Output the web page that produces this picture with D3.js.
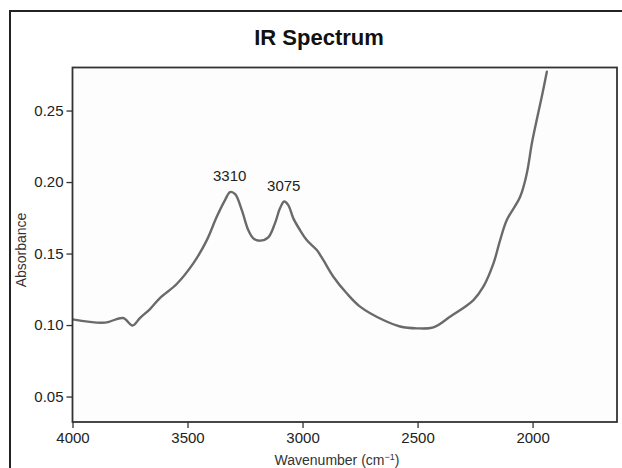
<!DOCTYPE html>
<html>
<head>
<meta charset="utf-8">
<script src="https://cdn.jsdelivr.net/npm/d3@7"></script>
<style>
  html, body { margin: 0; padding: 0; background: #fff; }
  svg { display: block; }
</style>
</head>
<body>
<script>
// ---- data ----
const wavenumber = [4000, 3859, 3780, 3739, 3707, 3663, 3620, 3547, 3475, 3416, 3373, 3337, 3315, 3293, 3264, 3236, 3214, 3185, 3149, 3120, 3098, 3080, 3062, 3040, 3011, 2982, 2938, 2910, 2866, 2808, 2750, 2649, 2576, 2503, 2431, 2359, 2257, 2214, 2170, 2141, 2112, 2054, 2025, 2003, 1982, 1960, 1938];
const absorbance = [0.1040, 0.1017, 0.1049, 0.0997, 0.1049, 0.1112, 0.1189, 0.1287, 0.1431, 0.1594, 0.1757, 0.1874, 0.1930, 0.1916, 0.1804, 0.1664, 0.1606, 0.1590, 0.1613, 0.1711, 0.1816, 0.1864, 0.1839, 0.1746, 0.1664, 0.1594, 0.1524, 0.1455, 0.1338, 0.1222, 0.1129, 0.1035, 0.0990, 0.0977, 0.0984, 0.1058, 0.1175, 0.1268, 0.1431, 0.1594, 0.1734, 0.1897, 0.2061, 0.2271, 0.2434, 0.2597, 0.2771];
const peakLabels = ["3310", "3075"];
const peakWavenumber = [3310, 3075];
const peakAbsorbance = [0.1935, 0.1866];
const xTicks = [4000, 3500, 3000, 2500, 2000];
const yTicks = [0.05, 0.10, 0.15, 0.20, 0.25];

// ---- layout ----
const W = 622, H = 468;
const L = 72.5, R = 617, T = 67.5, B = 422;
const font = "'Liberation Sans', Arial, sans-serif";

const svg = d3.select("body").append("svg").attr("width", W).attr("height", H);

// outer frame
svg.append("rect").attr("x", 10).attr("y", 11).attr("width", 700).attr("height", 500)
  .attr("fill", "none").attr("stroke", "#222").attr("stroke-width", 2);

// title
svg.append("text").attr("x", 319).attr("y", 45).attr("text-anchor", "middle")
  .attr("font-family", font).attr("font-weight", "bold").attr("font-size", 22)
  .attr("fill", "#111").text("IR Spectrum");

const x = d3.scaleLinear().domain([4000, 1633]).range([L, R]);
const y = d3.scaleLinear().domain([0.0322, 0.2801]).range([B, T]);

// clip
svg.append("defs").append("clipPath").attr("id", "plotclip")
  .append("rect").attr("x", L).attr("y", T).attr("width", R - L).attr("height", B - T);

// plot background
svg.append("rect").attr("x", L).attr("y", T).attr("width", R - L).attr("height", B - T)
  .attr("fill", "#fdfdfd");

// curve
const pts = wavenumber.map((w, i) => [w, absorbance[i]]);
const line = d3.line().x(d => x(d[0])).y(d => y(d[1])).curve(d3.curveCatmullRom.alpha(0.5));
svg.append("path").datum(pts).attr("d", line).attr("clip-path", "url(#plotclip)")
  .attr("fill", "none").attr("stroke", "#6a6a6a").attr("stroke-width", 2.4)
  .attr("stroke-linejoin", "round").attr("stroke-linecap", "round");

// peak labels
svg.selectAll("text.peak").data(peakLabels).enter().append("text")
  .attr("class", "peak")
  .attr("x", (d, i) => x(peakWavenumber[i]) - 1.5)
  .attr("y", (d, i) => y(peakAbsorbance[i]) - 10)
  .attr("text-anchor", "middle").attr("font-family", font).attr("font-size", 15)
  .attr("fill", "#222").text(d => d);

// axes
const xAxis = d3.axisBottom(x).tickValues(xTicks).tickFormat(d3.format("d")).tickSizeOuter(0).tickSize(6).tickPadding(4);
const gx = svg.append("g").attr("transform", `translate(0,${B})`).call(xAxis);
const yAxis = d3.axisLeft(y).tickValues(yTicks).tickFormat(d3.format(".2f")).tickSizeOuter(0).tickSize(6).tickPadding(3);
const gy = svg.append("g").attr("transform", `translate(${L},0)`).call(yAxis);
[gx, gy].forEach(g => {
  g.select(".domain").remove();
  g.selectAll(".tick line").attr("stroke", "#333").attr("stroke-width", 1.3);
  g.selectAll(".tick text").attr("font-family", font).attr("font-size", 15).attr("fill", "#222");
});

// plot border
svg.append("rect").attr("x", L).attr("y", T).attr("width", R - L).attr("height", B - T)
  .attr("fill", "none").attr("stroke", "#333").attr("stroke-width", 1.8);

// axis titles
const xt = svg.append("text").attr("x", 337).attr("y", 465).attr("text-anchor", "middle")
  .attr("font-family", font).attr("font-size", 14).attr("fill", "#333");
xt.append("tspan").text("Wavenumber (cm");
xt.append("tspan").attr("baseline-shift", "super").attr("font-size", 9).text("\u22121");
xt.append("tspan").text(")");

svg.append("text").attr("transform", "translate(26,250) rotate(-90)")
  .attr("text-anchor", "middle").attr("font-family", font).attr("font-size", 14)
  .attr("fill", "#333").text("Absorbance");
</script>
</body>
</html>
